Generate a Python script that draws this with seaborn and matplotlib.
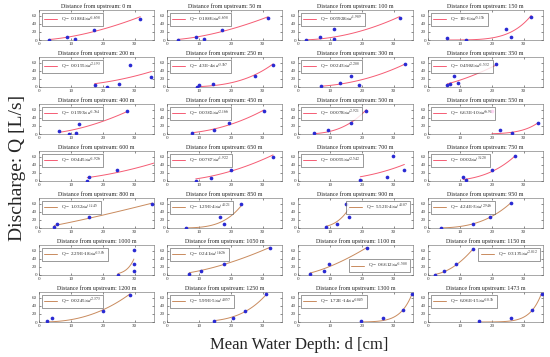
import numpy as np
import pandas as pd
import matplotlib
matplotlib.use("Agg")
import matplotlib.pyplot as plt
import seaborn as sns

# distances from upstream [m]
distances = [0, 50, 100, 150, 200, 250, 300, 350, 400, 450, 500, 550, 600, 650,
             700, 750, 800, 850, 900, 950, 1000, 1050, 1100, 1150, 1200, 1250, 1300, 1473]

# mean water depth d [cm] per station
depths = [
    [3.2, 8.8, 11.4, 17.1, 31.7],
    [3.4, 9.0, 11.6, 17.3, 31.6],
    [2.4, 6.8, 11.3, 11.3, 31.8],
    [6.1, 11.8, 24.3, 26.0, 32.3],
    [17.4, 21.3, 25.0, 28.5, 35.2],
    [9.3, 10.0, 14.5, 27.5, 33.2],
    [7.3, 13.0, 16.5, 19.2, 33.6],
    [6.1, 6.8, 8.0, 9.4, 21.4],
    [6.3, 9.3, 11.5, 12.6, 27.6],
    [7.9, 14.6, 19.4, 30.3],
    [4.9, 9.4, 16.5, 21.4],
    [22.4, 26.3, 34.4],
    [15.1, 15.7, 24.5, 42.0],
    [9.0, 13.8, 19.9, 33.2],
    [19.5, 27.9, 29.8, 33.3],
    [11.0, 12.0, 20.0, 27.1],
    [4.8, 5.5, 15.5, 35.5],
    [5.8, 16.7, 17.8, 23.1],
    [8.9, 12.2, 15.1, 15.9],
    [4.2, 14.0, 19.3, 26.0],
    [24.7, 29.7, 29.7, 29.7],
    [7.0, 10.7, 17.7, 32.2],
    [3.8, 8.1, 9.7, 21.6],
    [2.1, 4.9, 8.9, 14.1],
    [2.4, 4.2, 19.9, 28.5],
    [14.8, 20.7, 24.4, 31.1],
    [19.6, 26.7, 32.8, 35.7],
    [16.1, 26.1, 32.7, 35.6],
]

# discharge Q [L/s] per station
flows = [
    [0.5, 7, 2, 25, 53],
    [0.5, 7, 2, 25, 54],
    [1, 8, 26, 3, 54],
    [4, 0.5, 26, 8, 57],
    [4, 0.5, 8, 55, 25],
    [1, 4, 8, 26, 55],
    [1.5, 10, 27, 4, 56],
    [4, 7, 27, 11, 56],
    [8, 0.5, 3, 25, 56],
    [2, 10, 26, 57],
    [1.5, 10, 27, 57],
    [10, 2.5, 27],
    [0.5, 9, 27, 58],
    [1, 8, 27, 58],
    [2, 10, 61, 28],
    [9, 2, 28, 61],
    [2, 9, 27, 60],
    [1, 27, 10, 60],
    [1.5, 9, 60, 27],
    [1, 9, 27, 61],
    [0.5, 10, 27, 61],
    [2, 10, 28, 67],
    [1.5, 9, 27, 67],
    [1, 9, 27, 63],
    [1.5, 10, 28, 67],
    [1.5, 11, 28, 68],
    [1.5, 11, 29, 68],
    [2, 11, 30, 70],
]

# excluded point (550 m)
outlier_station = 550
outlier_d = [20.0]
outlier_q = [57]

# power law fit Q = a * d^b
coef_a = ["0.1864", "0.1866", "0.05928", "1E-6", "0.0155", "4.3E-4", "0.0243",
          "0.4983", "0.1593", "0.0365", "0.0078", "6.63E-10", "0.0445", "0.0767",
          "0.0055", "0.002", "1.032", "1.29E-4", "5.52E-4", "4.24E-3", "2.29E-18",
          "0.241", "0.6612", "0.3135", "0.0245", "5.99E-5", "1.72E-14", "6.06E-15"]
coef_b = ["1.658", "1.658", "1.989", "5.156", "2.193", "3.367", "2.208", "1.532",
          "1.764", "2.166", "2.921", "6.91", "1.926", "1.922", "2.542", "3.128",
          "1.145", "4.121", "4.107", "2.946", "13.06", "1.626", "1.508", "2.012",
          "2.373", "4.057", "10.05", "10.36"]

legend_loc = {900: "upper right", 1100: "lower right", 1150: "upper right"}

sns.set_style("ticks")
plt.rcParams["font.family"] = ["Liberation Serif", "DejaVu Serif"]
plt.rcParams["mathtext.fontset"] = "stix"

fig = plt.figure(figsize=(5.5, 3.57), dpi=100)
W, H = 550, 357
col_left = [39, 167, 298, 428]

for i, dist in enumerate(distances):
    r, c = divmod(i, 4)
    top = 10 + 47 * r
    ax = fig.add_axes([col_left[c] / W, 1 - (top + 30) / H, 115 / W, 30 / H])

    df = pd.DataFrame({"d": depths[i], "Q": flows[i]})
    a = float(coef_a[i])
    b = float(coef_b[i])
    d_all = list(depths[i])
    if dist == outlier_station:
        d_all += outlier_d
    dd = np.linspace(min(d_all), max(d_all), 120)
    line_color = "#f55c74" if r < 4 else "#c98b5e"
    label = f"Q = {coef_a[i]}$\\times d^{{{coef_b[i]}}}$"
    sns.lineplot(x=dd, y=a * dd ** b, ax=ax, color=line_color, linewidth=0.7,
                 label=label, zorder=2)
    sns.scatterplot(data=df, x="d", y="Q", ax=ax, color="#2a2ad2", s=7,
                    linewidth=0, zorder=3)
    if dist == outlier_station:
        sns.scatterplot(x=outlier_d, y=outlier_q, ax=ax, color="#ff3cd2", s=7,
                        linewidth=0, zorder=3)

    ax.set_xlim(0, 36)
    ax.set_ylim(0, 74)
    ax.set_xticks([0, 10, 20, 30])
    ax.set_yticks([0, 20, 40, 60])
    ax.set_xlabel("")
    ax.set_ylabel("")
    ax.set_title(f"Distance from upstream: {dist} m", fontsize=4.3, pad=1.5)
    ax.tick_params(direction="in", length=1.5, width=0.4, labelsize=3.6, pad=1.2,
                   colors="#333333", top=True, right=True)
    for sp in ax.spines.values():
        sp.set_visible(True)
        sp.set_linewidth(0.4)
        sp.set_color("#666666")
    leg = ax.legend(loc=legend_loc.get(dist, "upper left"), fontsize=3.7,
                    frameon=True, fancybox=False, edgecolor="#222222",
                    handlelength=2.6, borderpad=0.45, borderaxespad=0.5,
                    handletextpad=0.8)
    leg.get_frame().set_linewidth(0.4)

fig.text(0.032, 0.53, "Discharge: Q [L/s]", rotation=90, ha="center",
         va="center", fontsize=14)
fig.text(0.544, 0.034, "Mean Water Depth: d [cm]", ha="center", va="center",
         fontsize=12)

fig.savefig("out.png", dpi=100)
